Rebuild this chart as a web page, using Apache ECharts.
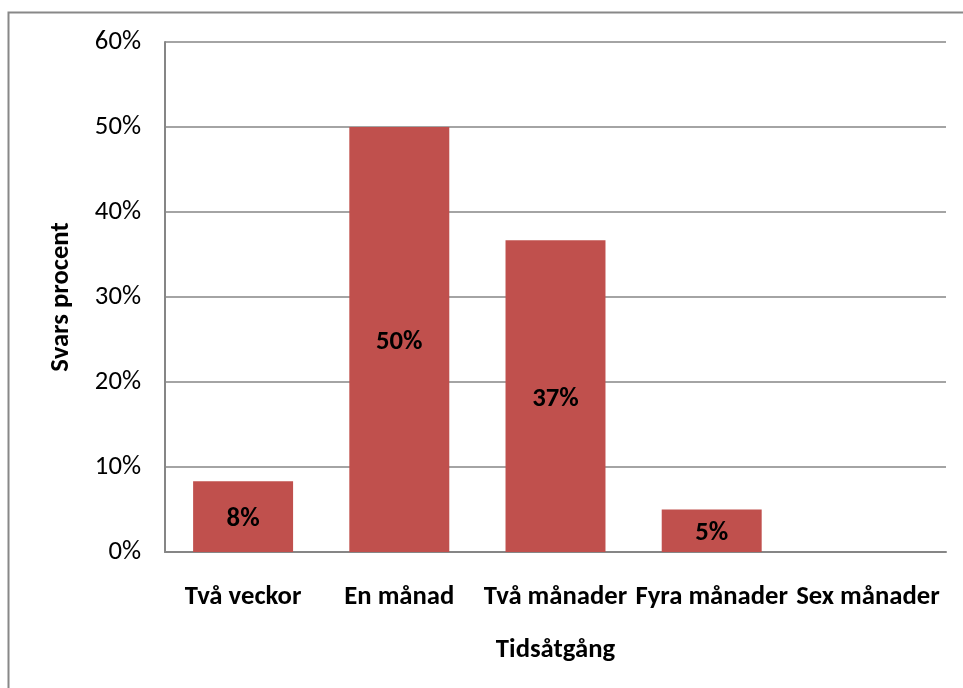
<!DOCTYPE html>
<html>
<head>
<meta charset="utf-8">
<script src="https://cdn.jsdelivr.net/npm/echarts@6/dist/echarts.min.js"></script>
<style>
  html, body { margin: 0; padding: 0; background: #fff; }
  #chart { width: 963px; height: 688px; }
</style>
</head>
<body>
<div id="chart"></div>
<script>
// Time taken, share of answers (percent)
const categories = ['Två veckor', 'En månad', 'Två månader', 'Fyra månader', 'Sex månader'];
const shares = [8.33, 50, 36.67, 5, 0];
const yTicks = { min: 0, max: 60, interval: 10 };

const FONT = 'Carlito, Lato, "Open Sans", sans-serif';
const FS = 26.7;
const chart = echarts.init(document.getElementById('chart'), null, { renderer: 'canvas' });

chart.setOption({
  animation: false,
  backgroundColor: '#ffffff',
  graphic: [{
    type: 'rect',
    shape: { x: 8.5, y: 12.5, width: 1000, height: 1000 },
    style: { fill: 'none', stroke: '#888888', lineWidth: 2 },
    silent: true
  }],
  grid: { left: 165, right: 17, top: 42, bottom: 136, containLabel: false },
  xAxis: {
    type: 'category',
    data: categories,
    name: 'Tidsåtgång',
    nameLocation: 'middle',
    nameGap: 85,
    nameTextStyle: { fontFamily: FONT, fontSize: FS, fontWeight: 'bold', color: '#000' },
    axisLine: { lineStyle: { color: '#868686', width: 2 } },
    axisTick: { show: false },
    axisLabel: { fontFamily: FONT, fontSize: FS, fontWeight: 'bold', color: '#000', margin: 32, interval: 0 }
  },
  yAxis: {
    type: 'value',
    min: yTicks.min,
    max: yTicks.max,
    interval: yTicks.interval,
    name: 'Svars procent',
    nameLocation: 'middle',
    nameGap: 90,
    nameRotate: 90,
    nameTextStyle: { fontFamily: FONT, fontSize: FS, fontWeight: 'bold', color: '#000' },
    axisLine: { show: true, lineStyle: { color: '#868686', width: 2 } },
    axisTick: { show: false },
    splitLine: { lineStyle: { color: '#868686', width: 1.5 } },
    axisLabel: { fontFamily: FONT, fontSize: FS, color: '#000', margin: 24, formatter: v => v + '%' }
  },
  series: [{
    type: 'bar',
    data: shares,
    barWidth: '64%',
    itemStyle: { color: '#C0504D' },
    label: {
      show: true,
      position: 'inside',
      offset: [0, 3],
      fontFamily: FONT,
      fontSize: FS,
      fontWeight: 'bold',
      color: '#000',
      formatter: p => p.value > 0 ? Math.round(p.value) + '%' : ''
    }
  }]
});
</script>
</body>
</html>
